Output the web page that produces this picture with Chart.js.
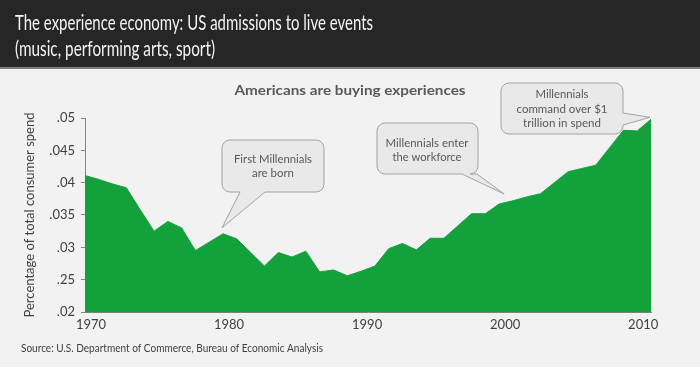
<!DOCTYPE html>
<html>
<head>
<meta charset="utf-8">
<script src="https://cdn.jsdelivr.net/npm/chart.js@4/dist/chart.umd.min.js"></script>
<style>
html, body { margin: 0; padding: 0; background: #f2f2f2; overflow: hidden; }
#wrap { position: absolute; left: 0; top: 0; width: 700px; height: 367px; }
</style>
</head>
<body>
<div id="wrap"><canvas id="myChart"></canvas></div>
<script>
// data
const years = [1970, 1971, 1972, 1973, 1974, 1975, 1976, 1977, 1978, 1979,
               1980, 1981, 1982, 1983, 1984, 1985, 1986, 1987, 1988, 1989,
               1990, 1991, 1992, 1993, 1994, 1995, 1996, 1997, 1998, 1999,
               2000, 2001, 2002, 2003, 2004, 2005, 2006, 2007, 2008, 2009,
               2010, 2011];
const spendShare = [0.0411, 0.0405, 0.0398, 0.0392, 0.0358, 0.0325, 0.0340, 0.0330, 0.0295, 0.0308,
                    0.0321, 0.0313, 0.0292, 0.0271, 0.0292, 0.0285, 0.0294, 0.0262, 0.0265, 0.0256,
                    0.0263, 0.0271, 0.0298, 0.0306, 0.0296, 0.0314, 0.0314, 0.0333, 0.0352, 0.0352,
                    0.0367, 0.0372, 0.0378, 0.0383, 0.0400, 0.0417, 0.0422, 0.0427, 0.0454, 0.0481,
                    0.0480, 0.0498];
const yTickLabels = ['.02', '.25', '.03', '.035', '.04', '.045', '.05'];
const xTickYears = [1970, 1980, 1990, 2000, 2010];

const FONT = 'Lato, "Open Sans", sans-serif';

// draws text squeezed to a given width (the source picture is narrow)
function fitText(ctx, text, x, y, w, align) {
    const m = ctx.measureText(text).width;
    const s = w / m;
    ctx.save();
    ctx.translate(x, y);
    ctx.scale(s, 1);
    ctx.textAlign = align || 'left';
    ctx.fillText(text, 0, 0);
    ctx.restore();
}

function calloutPath(ctx, b, r, side, p1, p2, tip) {
    const x0 = b.x, y0 = b.y, x1 = b.x + b.w, y1 = b.y + b.h;
    ctx.beginPath();
    ctx.moveTo(x0 + r, y0);
    ctx.arcTo(x1, y0, x1, y1, r);
    if (side === 'right') {
        ctx.lineTo(x1, p1);
        ctx.lineTo(tip.x, tip.y);
        ctx.lineTo(x1, p2);
    }
    ctx.arcTo(x1, y1, x0, y1, r);
    if (side === 'bottom') {
        ctx.lineTo(p2, y1);
        ctx.lineTo(tip.x, tip.y);
        ctx.lineTo(p1, y1);
    }
    ctx.arcTo(x0, y1, x0, y0, r);
    ctx.arcTo(x0, y0, x1, y0, r);
    ctx.closePath();
    ctx.fillStyle = '#e9e9e9';
    ctx.fill();
    ctx.lineWidth = 1;
    ctx.strokeStyle = '#a3a3a3';
    ctx.stroke();
}

const background = {
    id: 'background',
    beforeDraw(chart) {
        const ctx = chart.ctx;
        ctx.save();
        ctx.fillStyle = '#f2f2f2';
        ctx.fillRect(0, 0, chart.width, chart.height);
        ctx.fillStyle = '#262626';
        ctx.fillRect(0, 0, chart.width, 67);
        ctx.fillStyle = '#7d7d7d';
        ctx.fillRect(0, 67, chart.width, 2);

        ctx.fillStyle = '#f4f4f4';
        ctx.font = '21px ' + FONT;
        fitText(ctx, 'The experience economy: US admissions to live events', 15, 30, 358);
        fitText(ctx, '(music, performing arts, sport)', 15, 56, 200);

        ctx.fillStyle = '#595959';
        ctx.font = 'bold 14px ' + FONT;
        fitText(ctx, 'Americans are buying experiences', 350, 95, 231, 'center');

        ctx.fillStyle = '#404040';
        ctx.font = '11px ' + FONT;
        fitText(ctx, 'Source: U.S. Department of Commerce, Bureau of Economic Analysis', 21, 352, 302);
        ctx.restore();
    }
};

const callouts = {
    id: 'callouts',
    afterDraw(chart) {
        const ctx = chart.ctx;
        const xs = chart.scales.x, ys = chart.scales.y;
        const pt = (yr, dx, dy) => {
            const i = years.indexOf(yr);
            return { x: xs.getPixelForValue(i) + dx, y: ys.getPixelForValue(spendShare[i]) + dy };
        };
        ctx.save();
        calloutPath(ctx, { x: 222, y: 140, w: 102, h: 52 }, 8, 'bottom', 240, 265, pt(1980, -1, -6));
        calloutPath(ctx, { x: 377, y: 123, w: 101, h: 51 }, 8, 'bottom', 462, 477, pt(2000, 5, -10));
        calloutPath(ctx, { x: 501, y: 83, w: 122, h: 51 }, 8, 'right', 113, 125, pt(2011, -1, -2));

        ctx.fillStyle = '#595959';
        ctx.font = '12px ' + FONT;
        fitText(ctx, 'First Millennials', 273, 163, 78, 'center');
        fitText(ctx, 'are born', 273, 177, 42, 'center');
        fitText(ctx, 'Millennials enter', 427, 147, 83, 'center');
        fitText(ctx, 'the workforce', 427, 161, 69, 'center');
        fitText(ctx, 'Millennials', 562, 98, 53, 'center');
        fitText(ctx, 'command over $1', 562, 113, 91, 'center');
        fitText(ctx, 'trillion in spend', 562, 127, 78, 'center');
        ctx.restore();
    }
};

const ctx = document.getElementById('myChart');

const myChart = new Chart(ctx, {
    type: 'line',
    data: {
        labels: years.map(String),
        datasets: [{
            data: spendShare,
            fill: 'start',
            backgroundColor: '#13a13c',
            borderColor: '#13a13c',
            borderWidth: 1,
            pointRadius: 0,
            tension: 0
        }]
    },
    options: {
        responsive: true,
        maintainAspectRatio: false,
        animation: false,
        layout: { padding: { top: 118, right: 49, left: 0, bottom: 0 } },
        plugins: {
            legend: { display: false },
            tooltip: { enabled: false }
        },
        scales: {
            x: {
                type: 'category',
                offset: false,
                grid: { display: false, drawTicks: false },
                border: { display: true, color: '#6f8a73', width: 1 },
                ticks: {
                    autoSkip: false,
                    maxRotation: 0,
                    padding: 5,
                    labelOffset: 6,
                    color: '#404040',
                    font: { family: FONT, size: 13 },
                    callback: function (v, i) {
                        return xTickYears.includes(years[i]) ? String(years[i]) : '';
                    }
                },
                afterFit: function (scale) { scale.height = 55; }
            },
            y: {
                min: 0.02,
                max: 0.05,
                grid: { display: true, drawOnChartArea: false, tickLength: 4, color: '#868686' },
                border: { display: true, color: '#868686', width: 1 },
                ticks: {
                    stepSize: 0.005,
                    padding: 6,
                    color: '#404040',
                    font: { family: FONT, size: 13 },
                    callback: function (v, i) { return yTickLabels[i]; }
                },
                title: {
                    display: true,
                    text: 'Percentage of total consumer spend',
                    color: '#404040',
                    font: { family: FONT, size: 13 },
                    padding: { top: 22, bottom: 0 }
                },
                afterFit: function (scale) { scale.width = 85; }
            }
        }
    },
    plugins: [background, callouts]
});
</script>
</body>
</html>
